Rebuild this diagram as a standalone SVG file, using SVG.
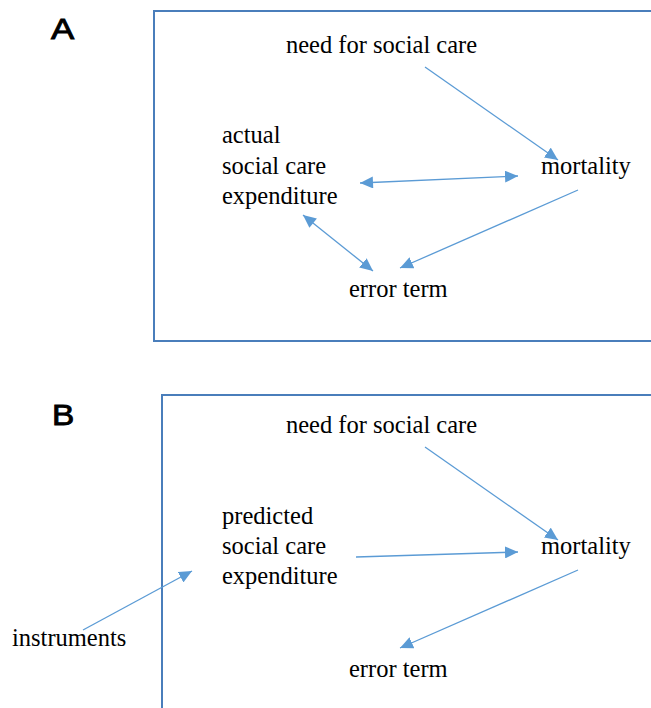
<svg xmlns="http://www.w3.org/2000/svg" width="651" height="708" viewBox="0 0 651 708">
<style>
.t{font-family:'Liberation Serif','Times New Roman',serif;font-size:24.5px;fill:#000}
.lab{font-family:'Liberation Sans',Arial,sans-serif;font-size:29px;fill:#000;stroke:#000;stroke-width:0.9}
.box{fill:none;stroke:#4a7ebb;stroke-width:2}
.c{stroke:#5b9bd5;stroke-width:1.3;fill:none;marker-end:url(#ah)}
.d{marker-start:url(#ahs)}
</style>
<defs>
<marker id="ah" markerUnits="userSpaceOnUse" markerWidth="14" markerHeight="12" refX="13" refY="6" orient="auto"><path d="M0,0 L13,6 L0,12 Z" fill="#5b9bd5"/></marker>
<marker id="ahs" markerUnits="userSpaceOnUse" markerWidth="14" markerHeight="12" refX="0" refY="6" orient="auto"><path d="M13,0 L0,6 L13,12 Z" fill="#5b9bd5"/></marker>
</defs>
<rect width="651" height="708" fill="#fff"/>
<g id="panelA">
<text class="lab" transform="translate(51,39) scale(1.2,1)">A</text>
<rect class="box" x="154" y="11" width="520" height="330"/>
</g>
<g id="panelB">
<text class="lab" transform="translate(52,425) scale(1.15,1)">B</text>
<rect class="box" x="162" y="395" width="520" height="340"/>
</g>
<g id="A_need"><text class="t" x="286" y="53">need for social care</text></g>
<g id="A_expenditure"><text class="t" x="222" y="143">actual</text><text class="t" x="222" y="174">social care</text><text class="t" x="222" y="204">expenditure</text></g>
<g id="A_mortality"><text class="t" x="541" y="174">mortality</text></g>
<g id="A_error"><text class="t" x="349" y="297">error term</text></g>
<g id="B_need"><text class="t" x="286" y="433">need for social care</text></g>
<g id="B_expenditure"><text class="t" x="222" y="524">predicted</text><text class="t" x="222" y="554">social care</text><text class="t" x="222" y="584">expenditure</text></g>
<g id="B_mortality"><text class="t" x="541" y="554">mortality</text></g>
<g id="B_error"><text class="t" x="349" y="677">error term</text></g>
<g id="B_instruments"><text class="t" x="12" y="646">instruments</text></g>
<g id="connectors">
<line class="c" x1="425" y1="67" x2="558" y2="160"/>
<line class="c d" x1="360" y1="183" x2="518" y2="176"/>
<line class="c d" x1="303" y1="215" x2="373" y2="271"/>
<line class="c" x1="578" y1="190" x2="400" y2="268"/>
<line class="c" x1="425" y1="447" x2="558" y2="540"/>
<line class="c" x1="356" y1="557" x2="518" y2="552"/>
<line class="c" x1="578" y1="570" x2="400" y2="648"/>
<line class="c" x1="83" y1="630" x2="192" y2="571"/>
</g>
</svg>
